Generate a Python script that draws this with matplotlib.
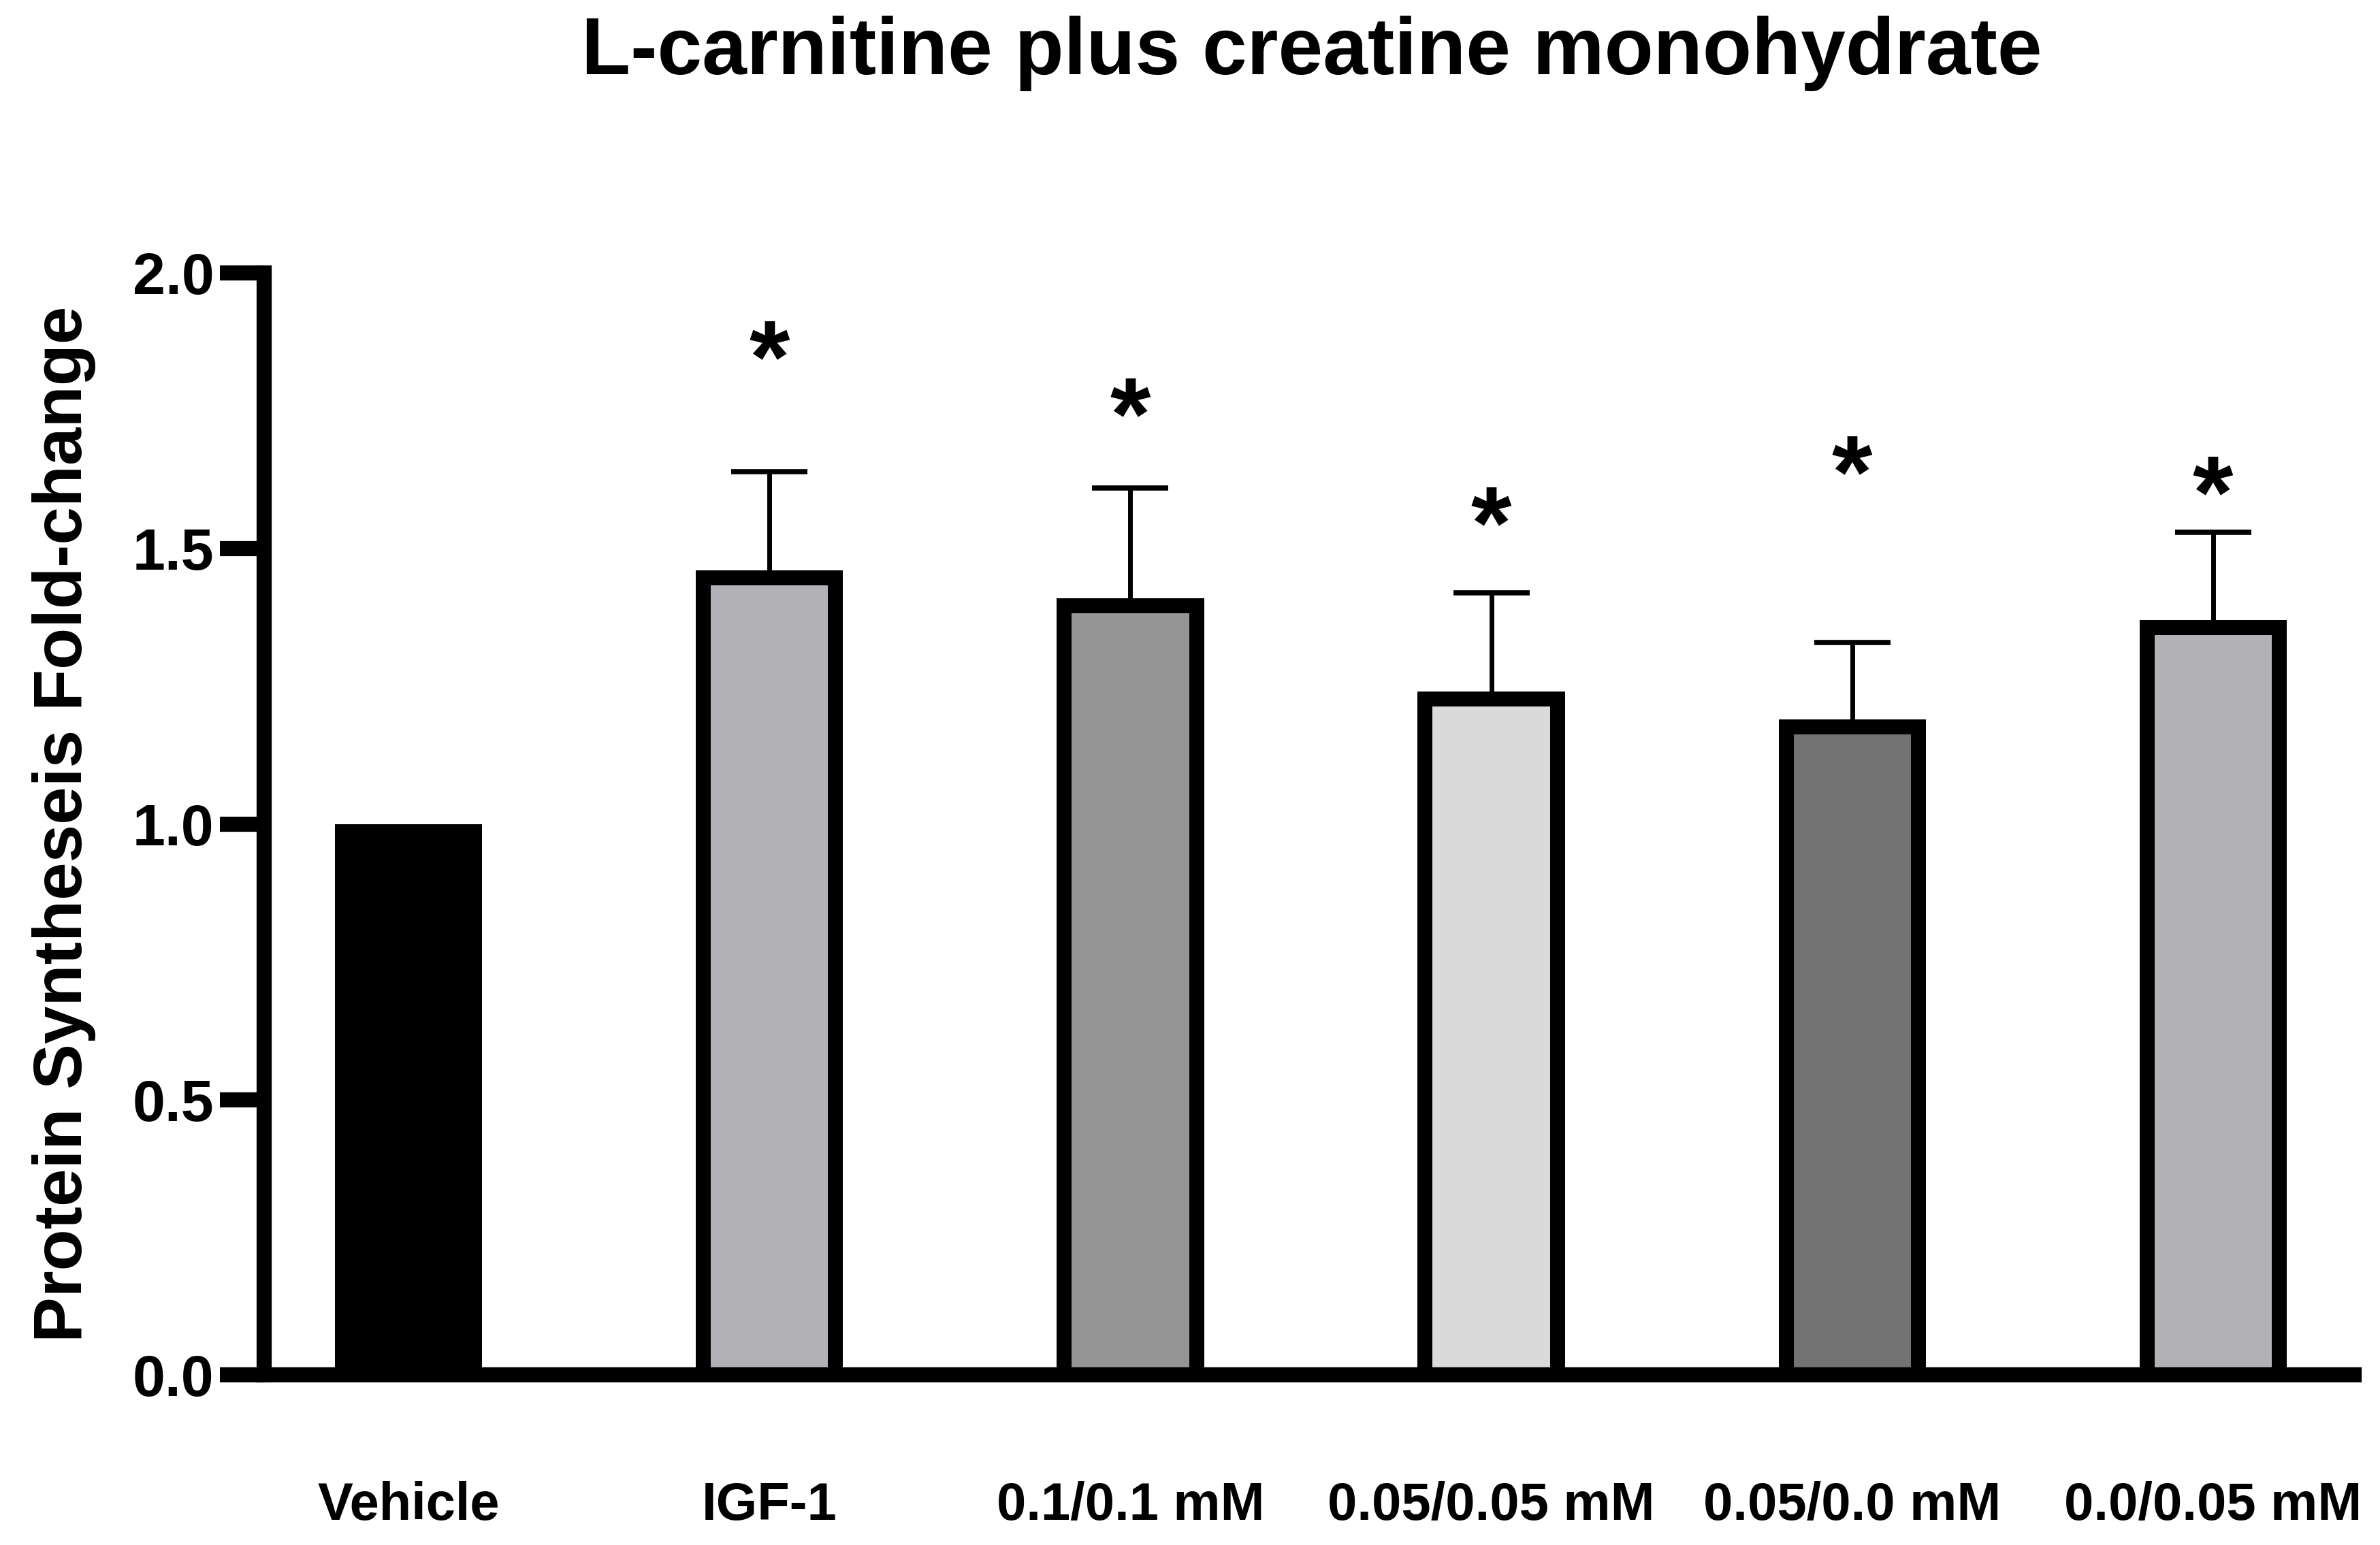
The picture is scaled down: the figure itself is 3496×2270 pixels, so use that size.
import matplotlib.pyplot as plt
import numpy as np

plt.rcParams['font.family'] = ['Liberation Sans', 'DejaVu Sans']
plt.rcParams['font.weight'] = 'bold'

# values (outer top of each bar, upper SEM, asterisk height)
groups = ['Vehicle', 'IGF-1', '0.1/0.1 mM', '0.05/0.05 mM', '0.05/0.0 mM', '0.0/0.05 mM']
means = [1.0, 1.46, 1.41, 1.24, 1.19, 1.37]
sem = [0.0, 0.18, 0.20, 0.18, 0.14, 0.16]
star_y = [None, 1.878, 1.774, 1.577, 1.669, 1.632]
colors = ['#000000', '#b2b2b6', '#959595', '#dadada', '#737373', '#b2b2b6']

fig = plt.figure(figsize=(34.96, 22.70), dpi=100)
ax = fig.add_axes([0.111, 0.110, 0.878, 0.7133])
ax.set_xlim(-0.40, 5.39)
ax.set_ylim(0, 2.0)

x = np.arange(len(groups))
w = 0.408
lw_px = 22
# border is drawn inside the bar (like Prism), so shrink by the line width
bx = lw_px / (3496 * 0.878 / 5.79)
by = lw_px / (2270 * 0.7133 / 2.0)

for i in range(len(groups)):
    if i == 0:
        ax.bar(x[i], means[i], width=w, color=colors[i], linewidth=0, zorder=2)
    else:
        ax.bar(x[i], means[i] - by / 2, width=w - bx, color=colors[i],
               edgecolor='black', linewidth=lw_px * 0.72, zorder=2)

# upper error only
_, caps, _ = ax.errorbar(x[1:], means[1:], yerr=[np.zeros(len(groups) - 1), sem[1:]],
                         fmt='none', ecolor='black', elinewidth=5, capsize=40,
                         capthick=5.5, zorder=1)
caps[0].set_visible(False)

star_fs = 110
for i in range(1, len(groups)):
    ax.annotate('*', xy=(x[i], star_y[i]), xytext=(0, -0.50 * star_fs),
                textcoords='offset points', ha='center', va='baseline',
                fontsize=star_fs, fontweight='bold')

for s in ['top', 'right']:
    ax.spines[s].set_visible(False)
for s in ['left', 'bottom']:
    ax.spines[s].set_linewidth(16)
    ax.spines[s].set_capstyle('projecting')
ax.spines['bottom'].set_zorder(4)

ax.set_yticks([0, 0.5, 1.0, 1.5, 2.0])
ax.set_yticklabels(['0.0', '0.5', '1.0', '1.5', '2.0'])
ax.tick_params(axis='y', length=47, width=16, pad=6, labelsize=62)
ax.set_xticks(x)
ax.set_xticklabels(groups)
ax.tick_params(axis='x', length=0, pad=112, labelsize=56)

ax.set_ylabel('Protein Syntheseis Fold-change', fontsize=72, fontweight='bold', va='center')
ax.yaxis.set_label_coords(-0.0958, 0.5)

fig.text(0.551, 0.9656, 'L-carnitine plus creatine monohydrate', ha='center', va='center',
         fontsize=85, fontweight='bold')

fig.savefig('out.png', dpi=100)
